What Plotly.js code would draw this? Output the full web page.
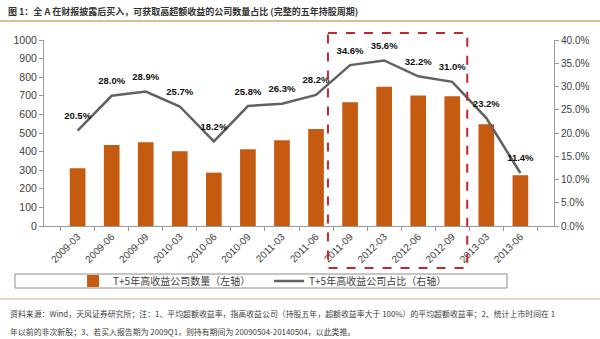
<!DOCTYPE html>
<html>
<head>
<meta charset="utf-8">
<script src="https://cdn.plot.ly/plotly-3.0.1.min.js"></script>
<style>html,body{margin:0;padding:0;background:#fff;}#chart{width:600px;height:339px;}</style>
</head>
<body>
<div id="chart"></div>
<script>
const categories = ["2009-03","2009-06","2009-09","2010-03","2010-06","2010-09","2011-03","2011-06","2011-09","2012-03","2012-06","2012-09","2013-03","2013-06"];
const companyCounts = [310, 435, 450, 402, 287, 412, 461, 522, 665, 748, 702, 698, 547, 273];
const companyShare = [0.205, 0.280, 0.289, 0.257, 0.182, 0.258, 0.263, 0.282, 0.346, 0.356, 0.322, 0.310, 0.232, 0.114];
const shareLabels = ["20.5%","28.0%","28.9%","25.7%","18.2%","25.8%","26.3%","28.2%","34.6%","35.6%","32.2%","31.0%","23.2%","11.4%"];
const barName = "T+5年高收益公司数量（左轴）";
const lineName = "T+5年高收益公司占比（右轴）";
const titleText = "图 1：全 A 在财报披露后买入，可获取高超额收益的公司数量占比 (完整的五年持股周期)";
const note1 = "资料来源：Wind，天风证券研究所；注：1、平均超额收益率，指高收益公司（持股五年，超额收益率大于 100%）的平均超额收益率；2、统计上市时间在 1";
const note2 = "年以前的非次新股；3、若买入报告期为 2009Q1，则持有期间为 20090504-20140504，以此类推。";

const FONT = "Liberation Sans, Arial, Noto Sans CJK SC, sans-serif";
const CJK = "Noto Sans CJK SC, Liberation Sans, sans-serif";

const traces = [
  {
    type: "bar", x: categories, y: companyCounts, name: barName,
    marker: {color: "#c55a11"}, yaxis: "y", hoverinfo: "skip"
  },
  {
    type: "scatter", mode: "lines+markers+text", x: categories, y: companyShare, name: lineName,
    yaxis: "y2", line: {color: "#626262", width: 2.5},
    marker: {size: 13, color: "rgba(0,0,0,0)"},
    text: shareLabels, textposition: "top center",
    textfont: {family: FONT, size: 9.5, color: "#111", weight: "bold"}, hoverinfo: "skip"
  }
];

const axisLine = "#9a9a9a";
const layout = {
  width: 600, height: 339,
  margin: {l: 44, r: 46, t: 40, b: 113},
  paper_bgcolor: "#fff", plot_bgcolor: "#fff",
  font: {family: FONT, size: 10, color: "#404040"},
  title: {text: "<b>" + titleText + "</b>", x: 8/600, xanchor: "left", y: 1 - 12/339, yanchor: "middle",
          font: {family: CJK, size: 9, color: "#333"}},
  bargap: 0.54,
  showlegend: true,
  legend: {orientation: "h", x: 0.057, xanchor: "left", y: -0.296, yanchor: "middle",
           font: {family: CJK, size: 10, color: "#404040"}, bgcolor: "rgba(0,0,0,0)",
           entrywidth: 151, traceorder: "normal"},
  xaxis: {type: "category", showline: true, linecolor: axisLine, linewidth: 1,
          ticks: "outside", tickson: "boundaries", ticklen: 4, tickcolor: axisLine,
          tickangle: -45, tickfont: {size: 10, color: "#404040"}, showgrid: false, zeroline: false,
          fixedrange: true},
  yaxis: {range: [0, 1000], dtick: 100, showline: true, linecolor: axisLine, ticks: "outside",
          ticklen: 4, tickcolor: axisLine, showgrid: false, zeroline: false,
          tickfont: {size: 10.5, color: "#404040"}},
  yaxis2: {range: [0, 0.4], dtick: 0.05, tickformat: ".1%", overlaying: "y", side: "right",
           showline: true, linecolor: axisLine, ticks: "outside", ticklen: 4, tickcolor: axisLine,
           showgrid: false, zeroline: false, tickfont: {size: 10, color: "#404040"}},
  shapes: [
    {type: "line", xref: "paper", yref: "paper", x0: -0.1, x1: 1.1, y0: (226-21)/186, y1: (226-21)/186,
     line: {color: "#d9bc98", width: 2}},
    {type: "line", xref: "paper", yref: "paper", x0: -0.1, x1: 1.1, y0: (226-299)/186, y1: (226-299)/186,
     line: {color: "#e3cdb2", width: 1.5}},
    {type: "rect", xref: "paper", yref: "paper", x0: (15-44)/510, x1: (507-44)/510,
     y0: (226-274)/186, y1: (226-288)/186, line: {color: "#8c8c8c", width: 1}},
    {type: "rect", xref: "x", yref: "paper", x0: 7.35, x1: 11.44, y0: (226-33)/186, y1: (226-268)/186,
     line: {color: "#c0282d", width: 2, dash: "dash"}}
  ],
  annotations: [
    {text: note1, xref: "paper", yref: "paper", x: (8-44)/510, y: (226-313)/186, xanchor: "left", yanchor: "middle",
     showarrow: false, font: {family: CJK, size: 7.9, color: "#404040"}},
    {text: note2, xref: "paper", yref: "paper", x: (8-44)/510, y: (226-331)/186, xanchor: "left", yanchor: "middle",
     showarrow: false, font: {family: CJK, size: 7.9, color: "#404040"}}
  ]
};

Plotly.newPlot("chart", traces, layout, {displayModeBar: false, staticPlot: true});
</script>
</body>
</html>
